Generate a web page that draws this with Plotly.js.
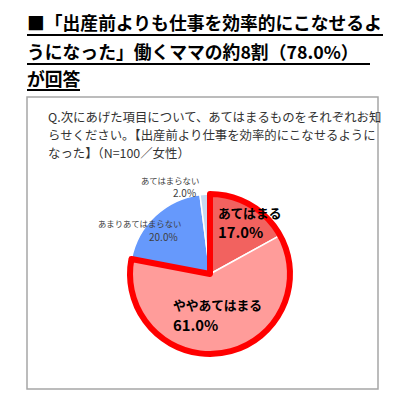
<!DOCTYPE html>
<html>
<head>
<meta charset="utf-8">
<script src="https://cdn.plot.ly/plotly-3.0.1.min.js"></script>
<style>
  html, body { margin: 0; padding: 0; background: #fff; }
  #chart { width: 403px; height: 400px; }
</style>
</head>
<body>
<div id="chart"></div>
<script>
const labels = ['あてはまる', 'ややあてはまる', 'あまりあてはまらない', 'あてはまらない'];
const values = [17.0, 61.0, 20.0, 2.0];
const colors = ['#f2625f', '#ff9c9a', '#6699fc', '#c6d9f1'];

const titleLines = ['■「出産前よりも仕事を効率的にこなせるよ', 'うになった」働くママの約8割（78.0%）', 'が回答'];
const questionLines = [
  'Q.次にあげた項目について、あてはまるものをそれぞれお知',
  'らせください。【出産前より仕事を効率的にこなせるように',
  'なった】（N=100／女性）'
];

const FONT = '"Noto Sans CJK JP", "Noto Sans", sans-serif';
const domain = { x: [0.3226, 0.7196], y: [0.115, 0.515] };

// combined "applies" share, outlined in red
const applies = values[0] + values[1];

const traces = [
  {
    type: 'pie',
    labels: labels,
    values: values,
    sort: false,
    direction: 'clockwise',
    rotation: 0,
    domain: domain,
    textinfo: 'none',
    hoverinfo: 'none',
    marker: { colors: colors, line: { color: '#ffffff', width: 1.5 } }
  },
  {
    type: 'pie',
    labels: ['applies', 'rest'],
    values: [applies, 100 - applies],
    sort: false,
    direction: 'clockwise',
    rotation: 0,
    domain: domain,
    textinfo: 'none',
    hoverinfo: 'none',
    marker: {
      colors: ['rgba(0,0,0,0)', 'rgba(0,0,0,0)'],
      line: { color: ['#ff0000', 'rgba(0,0,0,0)'], width: [6, 0] }
    }
  }
];

const pct = v => v.toFixed(1) + '%';
const annotations = [];
const px = (x, y, extra) => Object.assign({
  xref: 'paper', yref: 'paper', x: x / 403, y: 1 - y / 400,
  yanchor: 'middle', showarrow: false
}, extra);

// title
const titleY = [22, 51, 78];
titleLines.forEach((t, i) => annotations.push(px(25, titleY[i], {
  xanchor: 'left', text: '<b>' + t + '</b>',
  font: { family: FONT, size: 17.8, color: '#000' }
})));

// question
const qY = [117, 135, 153];
questionLines.forEach((t, i) => annotations.push(px(46, qY[i], {
  xanchor: 'left', text: t,
  font: { family: FONT, size: 12.4, color: '#333333' }
})));

// slice labels: [x, y of name, y of value, anchor, name size, value size, bold]
const sliceLabels = [
  [216, 212, 232, 'left', 12.8, 14.8, true],
  [171, 304, 324, 'left', 12.8, 14.8, true],
  [183, 222.5, 236, 'right', 8.4, 10, false],
  [201, 179.5, 193, 'right', 8.4, 10, false]
];
sliceLabels.forEach((s, i) => {
  const wrap = t => s[6] ? '<b>' + t + '</b>' : t;
  const col = s[6] ? '#000' : '#404040';
  annotations.push(px(s[0], s[1], {
    xanchor: s[3], text: wrap(labels[i]),
    font: { family: FONT, size: s[4], color: col }
  }));
  annotations.push(px(s[3] === 'right' ? s[0] - 3 : s[0], s[2], {
    xanchor: s[3], text: wrap(pct(values[i])),
    font: { family: FONT, size: s[5], color: col }
  }));
});

// underlines of the title and the question box
const underlines = [[27, 383, 35], [27, 370, 64], [27, 80, 90]];
const shapes = underlines.map(u => ({
  type: 'line', xref: 'paper', yref: 'paper',
  x0: u[0] / 403, x1: u[1] / 403, y0: 1 - u[2] / 400, y1: 1 - u[2] / 400,
  line: { color: '#000', width: 2 }
}));
shapes.push({
  type: 'rect', xref: 'paper', yref: 'paper',
  x0: 27 / 403, x1: 378 / 403, y0: 1 - 389 / 400, y1: 1 - 97 / 400,
  line: { color: '#a6a6a6', width: 1.5 }, fillcolor: 'rgba(0,0,0,0)', layer: 'below'
});

const layout = {
  width: 403,
  height: 400,
  margin: { t: 0, r: 0, b: 0, l: 0 },
  paper_bgcolor: '#ffffff',
  showlegend: false,
  font: { family: FONT },
  annotations: annotations,
  shapes: shapes
};

Plotly.newPlot('chart', traces, layout, { displayModeBar: false, staticPlot: true });
</script>
</body>
</html>
